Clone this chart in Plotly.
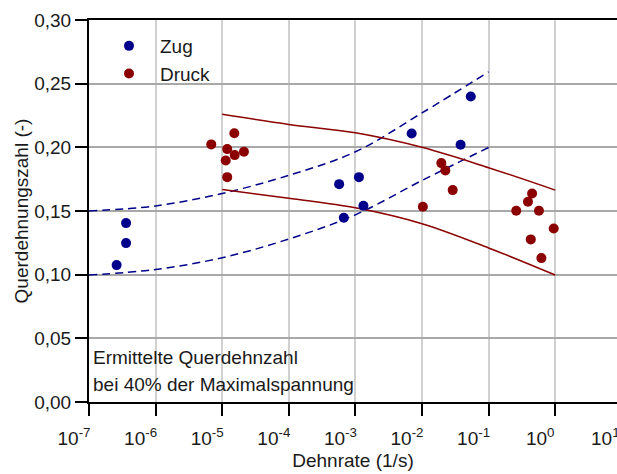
import plotly.graph_objects as go

# --- data ---
zug_rate = [2.6e-7, 3.6e-7, 3.6e-7, 5.7e-4, 6.7e-4, 1.13e-3, 1.32e-3, 7.0e-3, 0.038, 0.054]
zug_nu = [0.1075, 0.1248, 0.1405, 0.1711, 0.1447, 0.1766, 0.1541, 0.2109, 0.2020, 0.2399]

druck_rate = [6.85e-6, 1.13e-5, 1.19e-5, 1.19e-5, 1.52e-5, 1.54e-5, 2.12e-5,
              0.0103, 0.0195, 0.0224, 0.0289,
              0.26, 0.39, 0.45, 0.57, 0.43, 0.62, 0.95]
druck_nu = [0.2023, 0.1897, 0.1986, 0.1766, 0.2111, 0.1939, 0.1965,
            0.1533, 0.1876, 0.1819, 0.1664,
            0.1502, 0.1572, 0.1638, 0.1502, 0.1277, 0.1130, 0.1363]

zug_band_rate = [1e-7, 1e-6, 1e-5, 1e-4, 1e-3, 1e-2, 1e-1]
zug_upper = [0.150, 0.154, 0.1638, 0.178, 0.1965, 0.227, 0.2593]
zug_lower = [0.0997, 0.1041, 0.1133, 0.128, 0.147, 0.174, 0.1999]

druck_band_rate = [1e-5, 1e-4, 1e-3, 1e-2, 1e-1, 1.0]
druck_upper = [0.2259, 0.218, 0.2114, 0.200, 0.184, 0.1664]
druck_lower = [0.1669, 0.160, 0.1525, 0.140, 0.121, 0.0997]

x_tickvals = [1e-7, 1e-6, 1e-5, 1e-4, 1e-3, 1e-2, 1e-1, 1e0]
x_ticktext = ["10<sup>-7</sup>", "10<sup>-6</sup>", "10<sup>-5</sup>", "10<sup>-4</sup>",
              "10<sup>-3</sup>", "10<sup>-2</sup>", "10<sup>-1</sup>", "10<sup>0</sup>"]
y_tickvals = [0.0, 0.05, 0.10, 0.15, 0.20, 0.25, 0.30]
y_ticktext = ["0,00", "0,05", "0,10", "0,15", "0,20", "0,25", "0,30"]

BLUE = "#00008B"
RED = "#8B0000"
FONT = "Liberation Sans, Arial, sans-serif"
FS = 19    # tick labels
FT = 19    # titles, legend, note

fig = go.Figure()

for ys in (zug_upper, zug_lower):
    fig.add_trace(go.Scatter(x=zug_band_rate, y=ys, mode="lines",
                             line=dict(color=BLUE, width=1.5, dash="8px,5px", shape="spline", smoothing=1.0),
                             showlegend=False, hoverinfo="skip"))
for ys in (druck_upper, druck_lower):
    fig.add_trace(go.Scatter(x=druck_band_rate, y=ys, mode="lines",
                             line=dict(color=RED, width=1.5, shape="spline", smoothing=1.0),
                             showlegend=False, hoverinfo="skip"))

fig.add_trace(go.Scatter(x=zug_rate, y=zug_nu, mode="markers", name="Zug",
                         marker=dict(color=BLUE, size=10), legendgroup="a"))
fig.add_trace(go.Scatter(x=druck_rate, y=druck_nu, mode="markers", name="Druck",
                         marker=dict(color=RED, size=10), legendgroup="b"))

L, R, T, B = 89, 0, 20, 72
W, H = 617, 474
pw = W - L - R
ph = H - T - B

fig.update_layout(
    width=W, height=H,
    margin=dict(l=L, r=R, t=T, b=B, pad=0),
    paper_bgcolor="white", plot_bgcolor="white",
    font=dict(family=FONT, size=FS, color="#1a1a1a"),
    showlegend=True,
    legend=dict(x=(98 - L) / pw, y=1 - (27 - T) / ph, xanchor="left", yanchor="top",
                bgcolor="rgba(0,0,0,0)", font=dict(size=FT), tracegroupgap=0,
                itemwidth=52),
)

fig.update_xaxes(
    type="log", range=[-7, -7 + pw / 66.6],
    tickvals=x_tickvals, ticktext=x_ticktext,
    tickfont=dict(size=FS), ticks="outside", ticklen=12, tickwidth=2, tickcolor="black",
    ticklabelshift=-15, ticklabelstandoff=6,
    showline=True, linecolor="black", linewidth=2, mirror=True,
    showgrid=True, gridcolor="#d0d0d0", gridwidth=1.5,
    zeroline=False,
    title=dict(text="Dehnrate (1/s)", font=dict(size=FT), standoff=6),
)
fig.update_yaxes(
    range=[0, 0.30],
    tickvals=y_tickvals, ticktext=y_ticktext,
    tickfont=dict(size=FS), ticks="outside", ticklen=12, tickwidth=2, tickcolor="black",
    showline=True, linecolor="black", linewidth=2,
    showgrid=True, gridcolor="#a8a8a8", gridwidth=1.5,
    zeroline=False,
    title=dict(text="Querdehnungszahl (-)", font=dict(size=FT), standoff=1),
)

fig.add_annotation(text="Ermittelte Querdehnzahl", xref="paper", yref="paper",
                   x=(91 - L) / pw, y=(402 - 357) / ph, xanchor="left", yanchor="middle",
                   showarrow=False, font=dict(size=FT))
fig.add_annotation(text="bei 40% der Maximalspannung", xref="paper", yref="paper",
                   x=(91 - L) / pw, y=(402 - 384) / ph, xanchor="left", yanchor="middle",
                   showarrow=False, font=dict(size=FT))
# partially visible 10^1 tick label at the cropped right edge (tick at 10^1 lies just outside the window)
fig.add_annotation(text="10<sup>1</sup>", xref="paper", yref="paper",
                   x=(622 - L) / pw, y=0, xanchor="right", yanchor="top", yshift=-21,
                   showarrow=False, font=dict(size=FS))

fig.write_html("out.html")
